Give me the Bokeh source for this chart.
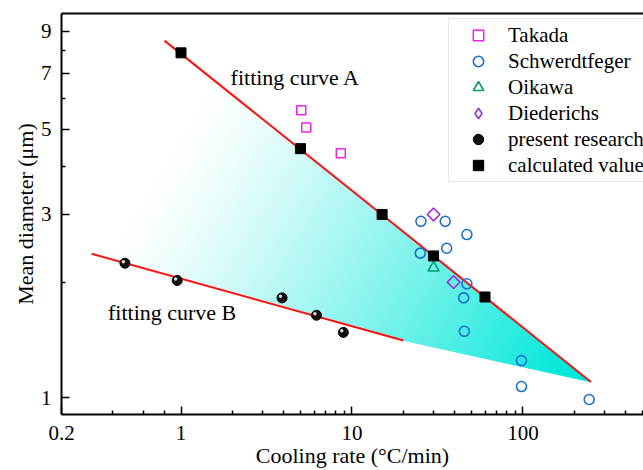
import numpy as np
from bokeh.plotting import figure
from bokeh.models import (FixedTicker, LogAxis, Legend, LegendItem, Label,
                          CustomJSTickFormatter)
from bokeh.embed import file_html
from bokeh.resources import INLINE

# ---------------- data ----------------
takada_x = [5.05, 5.4, 8.6]
takada_y = [5.6, 5.05, 4.33]

schw_x = [25.3, 35.1, 47.0, 35.8, 25.1, 47.0, 45.0, 45.4, 98.0, 98.0, 244.0]
schw_y = [2.88, 2.88, 2.66, 2.45, 2.38, 1.98, 1.82, 1.49, 1.25, 1.07, 0.99]

oikawa_x = [30.0]
oikawa_y = [2.18]

died_x = [30.0, 39.3]
died_y = [3.0, 2.0]

present_x = [0.47, 0.95, 3.9, 6.2, 8.9]
present_y = [2.24, 2.02, 1.82, 1.64, 1.48]

calc_x = [1.0, 5.0, 15.0, 30.0, 60.0]
calc_y = [7.9, 4.45, 3.0, 2.34, 1.83]

fitA_x = [0.8, 250.0]
fitA_y = [8.5, 1.1]
fitB_x = [0.3, 20.0]
fitB_y = [2.37, 1.41]

x_major = [0.2, 1, 10, 100]
x_minor = [0.4, 0.6, 0.8, 2, 3, 4, 5, 6, 7, 8, 9,
           20, 30, 40, 50, 60, 70, 80, 90, 200, 300, 400, 500]
y_major = [1, 3, 5, 7, 9]
y_minor = [2, 4, 6, 8]

# ---------------- layout ----------------
W, H = 643, 470
FL, FT, FB = 61, 13, 55
fw, fh = W - FL, H - FT - FB
x0, x1 = 0.2, 507.0
y0, y1 = 0.905, 10.0
SERIF = "Liberation Serif"

p = figure(width=W, height=H, x_axis_type="log", y_axis_type="log",
           x_range=(x0, x1), y_range=(y0, y1), title=None,
           output_backend="svg", toolbar_location=None,
           min_border_left=FL, min_border_top=FT, min_border_bottom=FB,
           min_border_right=0)
p.grid.visible = False
p.outline_line_color = None
p.background_fill_color = "white"
p.border_fill_color = "white"

fmt = CustomJSTickFormatter(code="return tick.toString();")

for ax, maj, mnr in ((p.xaxis[0], x_major, x_minor), (p.yaxis[0], y_major, y_minor)):
    ax.ticker = FixedTicker(ticks=maj, minor_ticks=mnr)
    ax.formatter = fmt
    ax.axis_line_width = 2
    ax.axis_line_color = "black"
    ax.major_tick_in = 8
    ax.major_tick_out = 0
    ax.minor_tick_in = 4
    ax.minor_tick_out = 0
    ax.major_tick_line_width = 1.5
    ax.minor_tick_line_width = 1.5
    ax.major_label_text_font = SERIF
    ax.major_label_text_font_size = "21px"
    ax.major_label_text_color = "black"
    ax.axis_label_text_font = SERIF
    ax.axis_label_text_font_size = "22px"
    ax.axis_label_text_font_style = "normal"
    ax.axis_label_text_color = "black"

p.xaxis[0].axis_label = "Cooling rate (°C/min)"
p.xaxis[0].major_label_standoff = 11
p.xaxis[0].axis_label_standoff = 0
p.yaxis[0].axis_label = "Mean diameter (μm)"
p.yaxis[0].major_label_standoff = 10
p.yaxis[0].axis_label_standoff = 0

# top frame line only (the right side of the frame is outside the picture)
top = LogAxis(ticker=FixedTicker(ticks=[]), major_label_text_font_size="0px",
              major_tick_in=0, major_tick_out=0, minor_tick_in=0, minor_tick_out=0,
              axis_line_width=2, axis_line_color="black", major_label_standoff=0)
p.add_layout(top, "above")

# ---------------- gradient-filled band between the fitting lines ----------------
kx = fw / np.log10(x1 / x0)
ky = fh / np.log10(y1 / y0)


def to_s(x, y):
    return np.array([np.log10(x) * kx, -np.log10(y) * ky])


def from_s(P):
    return 10 ** (P[0] / kx), 10 ** (-P[1] / ky)


poly_x = [fitA_x[0], fitA_x[1], fitB_x[1], fitB_x[0]]
poly_y = [fitA_y[0], fitA_y[1], fitB_y[1], fitB_y[0]]
poly = [to_s(x, y) for x, y in zip(poly_x, poly_y)]

d = np.array([1.0, 0.6])
d = d / np.linalg.norm(d)
proj = [P @ d for P in poly]
tmin, tmax = min(proj), max(proj)


def clip_half(pts, c, sign):
    out = []
    n = len(pts)
    for i in range(n):
        P, Q = pts[i], pts[(i + 1) % n]
        fp, fq = sign * (P @ d - c), sign * (Q @ d - c)
        if fp >= 0:
            out.append(P)
        if (fp >= 0) != (fq >= 0):
            t = fp / (fp - fq)
            out.append(P + t * (Q - P))
    return out


N = 90
cyan = np.array([0, 232, 218])
white = np.array([255, 255, 255])
xs, ys, cols = [], [], []
for k in range(N):
    c0 = tmin + (tmax - tmin) * k / N
    c1 = tmin + (tmax - tmin) * (k + 1) / N
    strip = clip_half(clip_half(poly, c0, 1), c1, -1)
    if len(strip) < 3:
        continue
    sx, sy = zip(*[from_s(P) for P in strip])
    xs.append(list(sx))
    ys.append(list(sy))
    t = (k + 0.5) / N
    a = min(1.0, max(0.0, (t - 0.12) / 0.83)) ** 1.25
    rgb = (white * (1 - a) + cyan * a).astype(int)
    cols.append("#%02x%02x%02x" % tuple(rgb))

p.patches(xs, ys, fill_color=cols, line_color=cols, line_width=0.8)

# ---------------- fitting lines ----------------
p.line(fitA_x, fitA_y, line_color="#ff1010", line_width=2)
p.line(fitB_x, fitB_y, line_color="#ff1010", line_width=2)

# ---------------- data series ----------------
r_tak = p.scatter(takada_x, takada_y, marker="square", size=9,
                  fill_color=None, line_color="#f020f0", line_width=1.5)
r_sch = p.scatter(schw_x, schw_y, marker="circle", size=10,
                  fill_color=None, line_color="#1a6fd0", line_width=1.6)
r_oik = p.scatter(oikawa_x, oikawa_y, marker="triangle", size=11,
                  fill_color=None, line_color="#00a070", line_width=1.6)
r_die = p.scatter(died_x, died_y, marker="square", size=9, angle=np.pi / 4,
                  fill_color=None, line_color="#9a30d8", line_width=1.6)
# legend-only glyph for Diederichs (a single NaN point: nothing is drawn in the plot;
# the legend ignores marker angles, so it uses the diamond marker)
r_die_leg = p.scatter(x=[np.nan], y=[np.nan], marker="diamond", size=14,
                      fill_color=None, line_color="#9a30d8", line_width=1.6)
r_pre = p.scatter(present_x, present_y, marker="circle", size=10,
                  fill_color="#101010", line_color="black", line_width=1)
hx = [x * 10 ** (-1.6 / kx) for x in present_x]
hy = [y * 10 ** (1.6 / ky) for y in present_y]
r_hl = p.scatter(hx, hy, marker="circle", size=3.5,
                 fill_color="#d8d8d8", line_color=None)
r_cal = p.scatter(calc_x, calc_y, marker="square", size=10,
                  fill_color="black", line_color="black")

# ---------------- annotations ----------------
p.add_layout(Label(x=1.95, y=6.83, text="fitting curve A", text_font=SERIF,
                   text_font_size="22px", text_baseline="middle", text_align="left",
                   text_color="black"))
p.add_layout(Label(x=0.374, y=1.666, text="fitting curve B", text_font=SERIF,
                   text_font_size="22px", text_baseline="middle", text_align="left",
                   text_color="black"))

# ---------------- legend ----------------
legend = Legend(items=[
    LegendItem(label="Takada", renderers=[r_tak]),
    LegendItem(label="Schwerdtfeger", renderers=[r_sch]),
    LegendItem(label="Oikawa", renderers=[r_oik]),
    LegendItem(label="Diederichs", renderers=[r_die_leg]),
    LegendItem(label="present research", renderers=[r_pre]),
    LegendItem(label="calculated value", renderers=[r_cal]),
], location=(387, 232))
legend.label_text_font = SERIF
legend.label_text_font_size = "21px"
legend.label_text_color = "black"
legend.glyph_width = 52
legend.glyph_height = 26
legend.label_height = 26
legend.label_standoff = 4
legend.spacing = 0
legend.padding = 3
legend.margin = 0
legend.border_line_color = "#cfcfcf"
legend.border_line_width = 1
legend.background_fill_color = "white"
legend.background_fill_alpha = 1.0
p.add_layout(legend)

open("out.html", "w").write(file_html(p, INLINE))
